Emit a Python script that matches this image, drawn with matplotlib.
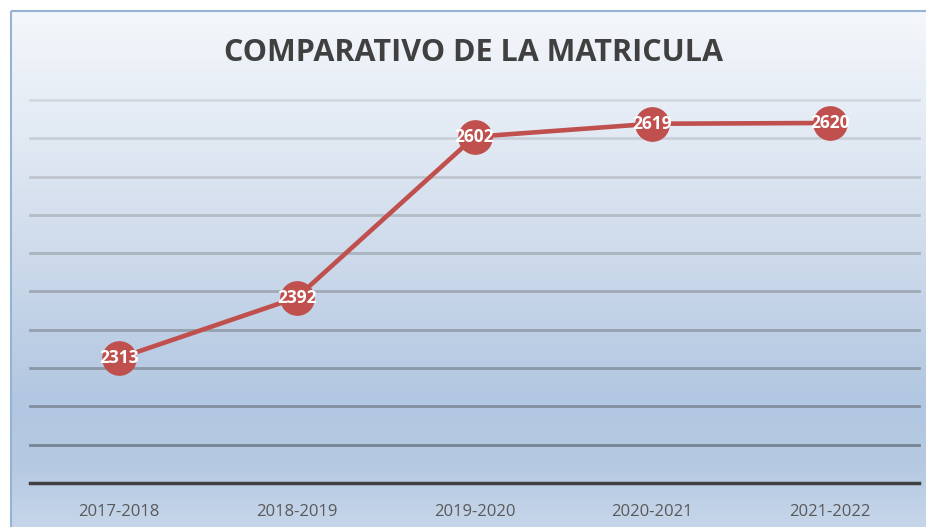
import matplotlib.pyplot as plt
import numpy as np
from matplotlib.colors import LinearSegmentedColormap
from matplotlib.patches import Rectangle

# datos
ciclos = ['2017-2018', '2018-2019', '2019-2020', '2020-2021', '2021-2022']
matricula = [2313, 2392, 2602, 2619, 2620]

W, H = 926, 527
fig = plt.figure(figsize=(W / 100, H / 100), dpi=100)

# fondo con degradado
bg = fig.add_axes([0, 0, 1, 1])
bg.set_xlim(0, W)
bg.set_ylim(H, 0)
bg.axis('off')
grad = LinearSegmentedColormap.from_list('fondo', [
    (0.0, '#F4F7FB'), (0.2, '#E5ECF5'), (0.45, '#D0DCEC'),
    (0.75, '#B2C7E1'), (0.88, '#B5C9E2'), (1.0, '#C6D6EA')])
g = np.linspace(0, 1, 256).reshape(-1, 1)
bg.imshow(g, cmap=grad, extent=[11, W, H, 11], aspect='auto', zorder=0)
bg.add_patch(Rectangle((11, 11), W, H, fill=False, edgecolor='#95B3D7', linewidth=1.5, zorder=1))

# grafica
ax = fig.add_axes([30 / W, (H - 483) / H, (919 - 30) / W, (483 - 100) / H])
ax.patch.set_alpha(0)
x = np.arange(len(ciclos))
ax.set_xlim(-0.5, len(ciclos) - 0.5)
ax.set_ylim(2150, 2650)

niveles = np.arange(2200, 2651, 50)
gris_claro = np.array([0xD3, 0xD8, 0xDF]) / 255
gris_osc = np.array([0x76, 0x84, 0x94]) / 255
for v in niveles:
    t = (2650 - v) / 450
    c = gris_claro + (gris_osc - gris_claro) * t
    ax.axhline(v, color=c, linewidth=2, zorder=1, clip_on=False)

ax.plot(x, matricula, color='#C0504D', linewidth=3.3, marker='o', markersize=25,
        markeredgewidth=0, zorder=3)
for xi, v in zip(x, matricula):
    ax.text(xi, v, str(v), ha='center', va='center', color='white',
            fontsize=12.5, fontweight='bold', family='Open Sans', zorder=4)

for s in ['top', 'right', 'left']:
    ax.spines[s].set_visible(False)
ax.spines['bottom'].set_color('#404040')
ax.spines['bottom'].set_linewidth(2.5)
ax.set_yticks([])
ax.set_xticks(x)
ax.set_xticklabels(ciclos, fontsize=12, color='#595959', family='Open Sans')
ax.tick_params(axis='x', length=0, pad=15)

fig.text(474 / W, 1 - 53 / H, 'COMPARATIVO DE LA MATRICULA', ha='center', va='center',
         fontsize=22, fontweight='bold', color='#404040', family='Open Sans')

fig.savefig('out.png', dpi=100)
